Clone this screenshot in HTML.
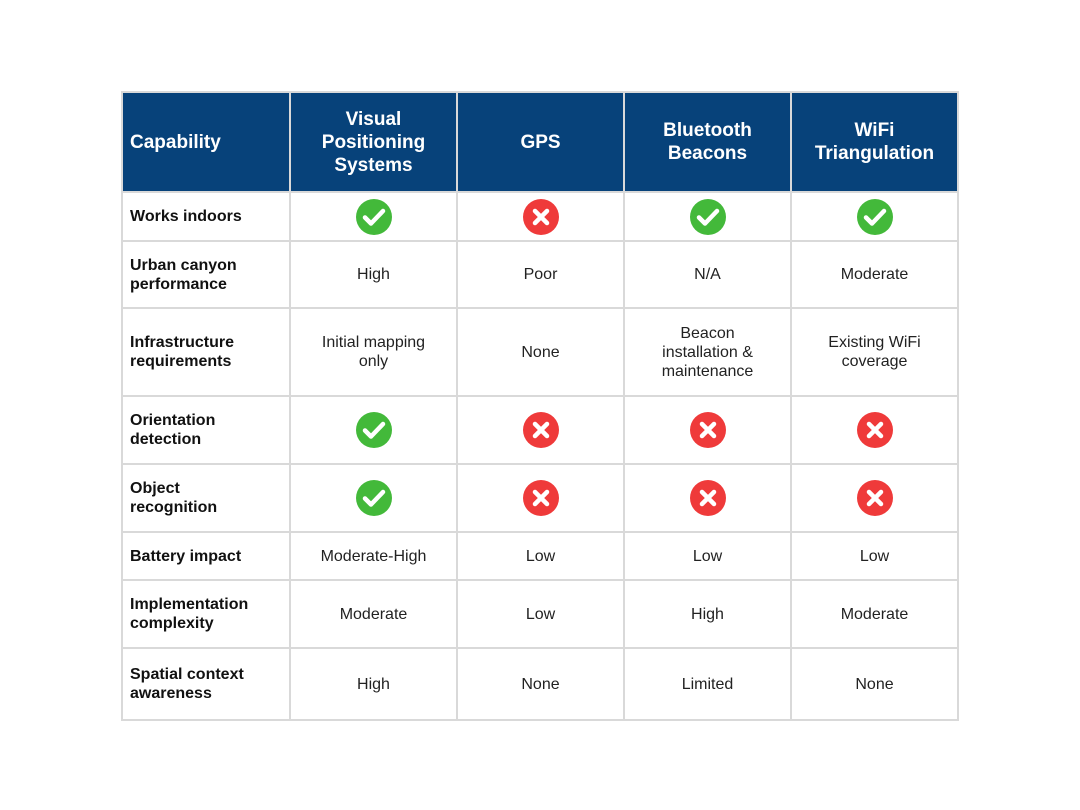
<!DOCTYPE html>
<html><head><meta charset="utf-8"><style>
html,body{margin:0;padding:0;background:#fff;width:1080px;height:810px;overflow:hidden}
table{position:absolute;left:121px;top:91px;border-collapse:collapse;table-layout:fixed;font-family:"Liberation Sans",sans-serif}
td,th{border:2px solid #d9d9d9;padding:0;text-align:center;vertical-align:middle;font-size:16px;color:#222;line-height:19px}
th{background:#07427a;color:#fff;font-size:19px;font-weight:bold;line-height:23px}
th.f{text-align:left;padding-left:7px}
td.f{text-align:left;padding-left:7px;font-weight:bold;color:#111;font-size:16px}
svg.i{display:block;margin:0 auto}
</style></head><body>
<svg width="0" height="0" style="position:absolute"><defs>
<symbol id="ck" viewBox="0 0 36 36"><circle cx="18" cy="18" r="18" fill="#43b93a"/><path d="M9 18.5l6 6L27 12" stroke="#fff" stroke-width="4.5" fill="none" stroke-linecap="round" stroke-linejoin="round"/></symbol>
<symbol id="x" viewBox="0 0 36 36"><circle cx="18" cy="18" r="18" fill="#ef3a3a"/><path d="M12 12l12 12M24 12L12 24" stroke="#fff" stroke-width="4.5" stroke-linecap="round"/></symbol>
</defs></svg>
<table>
<colgroup><col style="width:168px"><col style="width:167px"><col style="width:167px"><col style="width:167px"><col style="width:167px"></colgroup>
<tr style="height:100px"><th class="f">Capability</th><th>Visual<br>Positioning<br>Systems</th><th>GPS</th><th>Bluetooth<br>Beacons</th><th>WiFi<br>Triangulation</th></tr>
<tr style="height:49px"><td class="f">Works indoors</td><td><svg class="i" width="36" height="36"><use href="#ck"/></svg></td><td><svg class="i" width="36" height="36"><use href="#x"/></svg></td><td><svg class="i" width="36" height="36"><use href="#ck"/></svg></td><td><svg class="i" width="36" height="36"><use href="#ck"/></svg></td></tr>
<tr style="height:67px"><td class="f">Urban canyon<br>performance</td><td>High</td><td>Poor</td><td>N/A</td><td>Moderate</td></tr>
<tr style="height:88px"><td class="f">Infrastructure<br>requirements</td><td>Initial mapping<br>only</td><td>None</td><td>Beacon<br>installation &amp;<br>maintenance</td><td>Existing WiFi<br>coverage</td></tr>
<tr style="height:68px"><td class="f">Orientation<br>detection</td><td><svg class="i" width="36" height="36"><use href="#ck"/></svg></td><td><svg class="i" width="36" height="36"><use href="#x"/></svg></td><td><svg class="i" width="36" height="36"><use href="#x"/></svg></td><td><svg class="i" width="36" height="36"><use href="#x"/></svg></td></tr>
<tr style="height:68px"><td class="f">Object<br>recognition</td><td><svg class="i" width="36" height="36"><use href="#ck"/></svg></td><td><svg class="i" width="36" height="36"><use href="#x"/></svg></td><td><svg class="i" width="36" height="36"><use href="#x"/></svg></td><td><svg class="i" width="36" height="36"><use href="#x"/></svg></td></tr>
<tr style="height:48px"><td class="f">Battery impact</td><td>Moderate-High</td><td>Low</td><td>Low</td><td>Low</td></tr>
<tr style="height:68px"><td class="f">Implementation<br>complexity</td><td>Moderate</td><td>Low</td><td>High</td><td>Moderate</td></tr>
<tr style="height:72px"><td class="f">Spatial context<br>awareness</td><td>High</td><td>None</td><td>Limited</td><td>None</td></tr>
</table>
</body></html>
